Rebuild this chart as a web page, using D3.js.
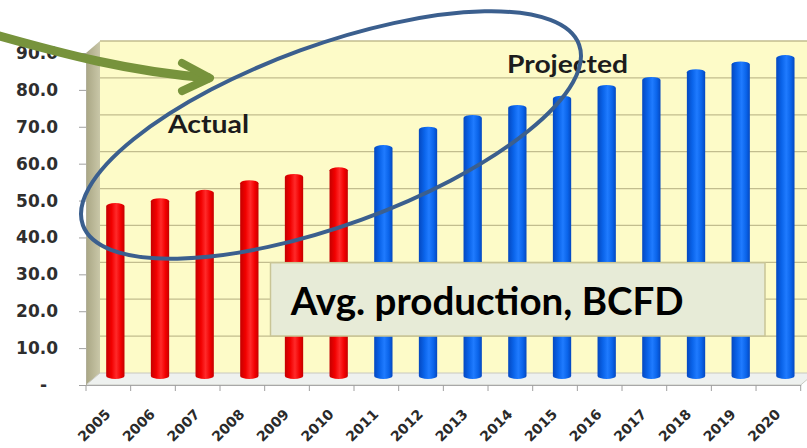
<!DOCTYPE html>
<html>
<head>
<meta charset="utf-8">
<script src="https://cdn.jsdelivr.net/npm/d3@7"></script>
<style>
    body { margin: 0; background: #fff; }
    svg { display: block; }
</style>
</head>
<body>
<div id="chart"></div>
<script>
// data
var years = ['2005', '2006', '2007', '2008', '2009', '2010', '2011', '2012',
    '2013', '2014', '2015', '2016', '2017', '2018', '2019', '2020'];
var production = [47.7, 49.0, 51.3, 53.9, 55.6, 57.4, 63.4, 68.4,
    71.6, 74.3, 76.8, 79.7, 81.9, 84.0, 86.1, 87.8];
var lastActualYear = '2010';
var yTicks = [0, 10, 20, 30, 40, 50, 60, 70, 80, 90];
var labelActual = 'Actual';
var labelProjected = 'Projected';
var boxLabel = 'Avg. production, BCFD';

var width = 807, height = 448;
// depth of the 3d box: back wall is shifted right and up
var depth = {dx: 14, dy: -12};

var svg = d3.select('#chart')
    .append('svg')
    .attr('width', width)
    .attr('height', height);

var x = d3.scaleBand().domain(years).range([86, 800.7]).padding(0);
var y = d3.scaleLinear().domain([0, 90]).range([385, 53]);

var defs = svg.append('defs');

function barGradient(id, edge, mid, light) {
    var g = defs.append('linearGradient').attr('id', id)
        .attr('x1', '0%').attr('x2', '100%').attr('y1', '0%').attr('y2', '0%');
    g.append('stop').attr('offset', '0%').attr('stop-color', edge);
    g.append('stop').attr('offset', '30%').attr('stop-color', mid);
    g.append('stop').attr('offset', '55%').attr('stop-color', light);
    g.append('stop').attr('offset', '80%').attr('stop-color', mid);
    g.append('stop').attr('offset', '100%').attr('stop-color', edge);
}
barGradient('redBar', '#c40000', '#f20000', '#ff2a2a');
barGradient('blueBar', '#0448c0', '#0a64ea', '#1f7bff');

var side = defs.append('linearGradient').attr('id', 'sideWall')
    .attr('x1', '0%').attr('x2', '100%');
side.append('stop').attr('offset', '0%').attr('stop-color', '#a9a684');
side.append('stop').attr('offset', '100%').attr('stop-color', '#c9c7a8');

var x0 = x.range()[0], x1 = x.range()[1];
var yTop = y(90), yBot = y(0);

// back wall
svg.append('rect')
    .attr('x', x0 + depth.dx)
    .attr('y', yTop + depth.dy)
    .attr('width', width - x0 - depth.dx)
    .attr('height', yBot - yTop)
    .attr('fill', '#fdfbc8');

// side wall
svg.append('path')
    .attr('d', 'M' + x0 + ',' + yTop + 'L' + (x0 + depth.dx) + ',' + (yTop + depth.dy) +
        'L' + (x0 + depth.dx) + ',' + (yBot + depth.dy) + 'L' + x0 + ',' + yBot + 'Z')
    .attr('fill', 'url(#sideWall)');

// gridlines on back wall
svg.append('g').selectAll('line')
    .data(yTicks.slice(1))
    .enter().append('line')
    .attr('x1', x0 + depth.dx)
    .attr('x2', width)
    .attr('y1', function (d) { return y(d) + depth.dy; })
    .attr('y2', function (d) { return y(d) + depth.dy; })
    .attr('stroke', '#c2bd8e')
    .attr('stroke-width', 1.3);

// floor
svg.append('path')
    .attr('d', 'M' + x0 + ',' + yBot + 'L' + (x0 + depth.dx) + ',' + (yBot + depth.dy) +
        'L' + (x1 + depth.dx) + ',' + (yBot + depth.dy) + 'L' + x1 + ',' + yBot + 'Z')
    .attr('fill', '#eef1ef')
    .attr('stroke', '#c8c8c0')
    .attr('stroke-width', 1);

// bars sit half way into the box
var bw = x.bandwidth() * 0.41;
var isActual = function (d) { return d <= lastActualYear; };

svg.append('g').selectAll('rect')
    .data(years)
    .enter().append('rect')
    .attr('x', function (d) { return x(d) + x.bandwidth() / 2 + depth.dx / 2 - bw / 2; })
    .attr('y', function (d, i) { return y(production[i]) + depth.dy / 2; })
    .attr('width', bw)
    .attr('height', function (d, i) { return y(0) - y(production[i]); })
    .attr('rx', bw / 2)
    .attr('ry', 3)
    .attr('fill', function (d) { return isActual(d) ? 'url(#redBar)' : 'url(#blueBar)'; });

// y axis
var yAxis = svg.append('g')
    .attr('transform', 'translate(' + x0 + ',0)')
    .call(d3.axisLeft(y)
        .tickValues(yTicks)
        .tickSize(7)
        .tickPadding(21)
        .tickFormat(function (d) { return d === 0 ? '-' : d3.format('.1f')(d); }));
yAxis.select('.domain').attr('stroke', '#b0ae98');
yAxis.selectAll('.tick line').attr('stroke', '#a0a0a0');
yAxis.selectAll('.tick text')
    .attr('fill', '#2e2e2e')
    .style('font-family', '"DejaVu Sans", sans-serif')
    .style('font-weight', 'bold')
    .style('font-size', '17px')
    .filter(function (d) { return d === 0; })
    .attr('x', -39);

// x axis
var xAxis = svg.append('g')
    .attr('transform', 'translate(0,' + yBot + ')')
    .call(d3.axisBottom(x).tickSize(0).tickFormat(function (d) { return d; }));
xAxis.select('.domain').attr('stroke', '#a8a8a8');
xAxis.selectAll('.tick text')
    .attr('fill', '#2a2a2a')
    .style('font-family', '"DejaVu Sans", sans-serif')
    .style('font-weight', 'bold')
    .style('font-size', '14px')
    .style('text-anchor', 'end')
    .attr('y', 0)
    .attr('dy', 0)
    .attr('transform', 'translate(3,30) rotate(-45)');

// tick marks between categories
var bounds = years.map(function (d) { return x(d); }).concat([x1]);
svg.append('g').selectAll('line')
    .data(bounds)
    .enter().append('line')
    .attr('x1', function (d) { return d; })
    .attr('x2', function (d) { return d; })
    .attr('y1', yBot)
    .attr('y2', yBot + 6)
    .attr('stroke', '#a0a0a0');

// annotations
svg.append('text')
    .attr('x', 168).attr('y', 133)
    .attr('textLength', 81).attr('lengthAdjust', 'spacingAndGlyphs')
    .style('font-family', 'Lato, sans-serif')
    .style('font-weight', 'bold')
    .style('font-size', '24.5px')
    .attr('fill', '#1c1c1c')
    .text(labelActual);

svg.append('text')
    .attr('x', 507).attr('y', 73)
    .attr('textLength', 121).attr('lengthAdjust', 'spacingAndGlyphs')
    .style('font-family', 'Lato, sans-serif')
    .style('font-weight', 'bold')
    .style('font-size', '25px')
    .attr('fill', '#1c1c1c')
    .text(labelProjected);

svg.append('rect')
    .attr('x', 270.5).attr('y', 262.7)
    .attr('width', 494.5).attr('height', 73.3)
    .attr('fill', '#e7ebd7')
    .attr('stroke', '#c9c596')
    .attr('stroke-width', 1.5);

svg.append('text')
    .attr('x', 290.7).attr('y', 315)
    .attr('textLength', 393).attr('lengthAdjust', 'spacingAndGlyphs')
    .style('font-family', 'Lato, sans-serif')
    .style('font-weight', 'bold')
    .style('font-size', '39px')
    .attr('fill', '#000')
    .text(boxLabel);

// blue ellipse round the 2005-2015 tops
svg.append('ellipse')
    .attr('cx', 0).attr('cy', 0)
    .attr('rx', 264).attr('ry', 90)
    .attr('transform', 'translate(331,135) rotate(-20)')
    .attr('fill', 'none')
    .attr('stroke', '#3b5f8e')
    .attr('stroke-width', 4);

// green arrow
svg.append('path')
    .attr('d', 'M-4,35 C60,53 130,72 210,78')
    .attr('fill', 'none')
    .attr('stroke', '#77933c')
    .attr('stroke-width', 9);
svg.append('path')
    .attr('d', 'M182,63 L210,78 L182,91')
    .attr('fill', 'none')
    .attr('stroke', '#77933c')
    .attr('stroke-width', 8)
    .attr('stroke-linecap', 'round')
    .attr('stroke-linejoin', 'round');
</script>
</body>
</html>
